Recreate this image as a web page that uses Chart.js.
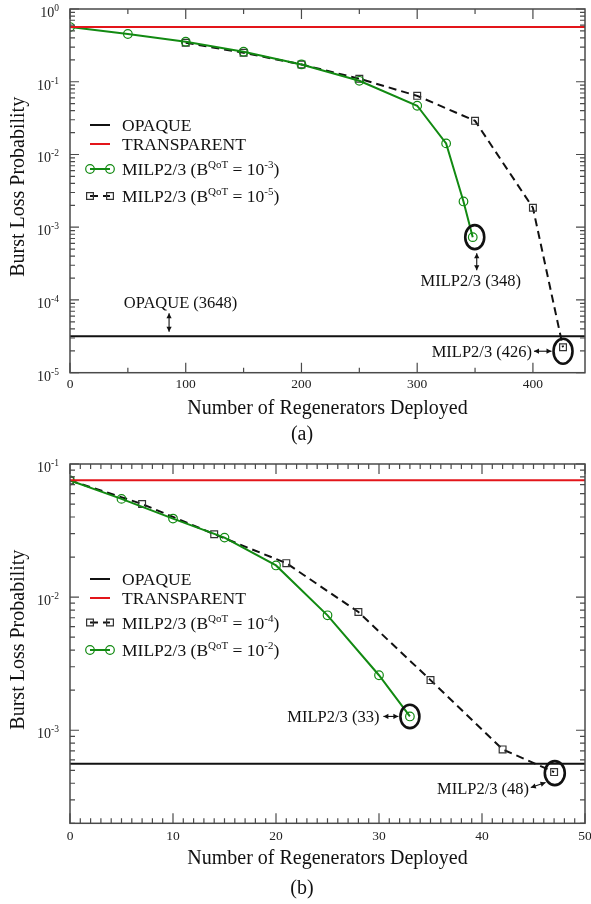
<!DOCTYPE html>
<html>
<head>
<meta charset="utf-8">
<script src="https://cdn.jsdelivr.net/npm/chart.js@4.4.1/dist/chart.umd.min.js"></script>
<style>
  html, body { margin: 0; padding: 0; background: #fff; }
  #wrap { position: relative; width: 591px; height: 904px; }
  .panel { position: absolute; left: 0; width: 591px; height: 452px; }
</style>
</head>
<body>
<div id="wrap">
  <div class="panel" style="top:0"><canvas id="chart-a" width="591" height="452"></canvas></div>
  <div class="panel" style="top:452px"><canvas id="chart-b" width="591" height="452"></canvas></div>
</div>
<script>
// --- data: panel (a) ---
const A_X_TICKS = [0, 100, 200, 300, 400];
const A_Y_EXP = [0, -1, -2, -3, -4, -5];
const A_GREEN_X = [0, 50, 100, 150, 200, 250, 300, 325, 340, 348];
const A_GREEN_Y = [0.565, 0.453, 0.355, 0.259, 0.173, 0.103, 0.0468, 0.0142, 0.00226, 0.00073];
const A_BLACK_X = [100, 150, 200, 250, 300, 350, 400, 426];
const A_BLACK_Y = [0.344, 0.25, 0.173, 0.11, 0.064, 0.029, 0.00185, 0.0000224];
const A_TRANSPARENT = 0.565;
const A_OPAQUE = 3.18e-5;

// --- data: panel (b) ---
const B_X_TICKS = [0, 10, 20, 30, 40, 50];
const B_Y_EXP = [-1, -2, -3];
const B_GREEN_X = [0, 5, 10, 15, 20, 25, 30, 33];
const B_GREEN_Y = [0.0752, 0.0547, 0.0389, 0.028, 0.0173, 0.0073, 0.00259, 0.00127];
const B_BLACK_X = [0, 7, 14, 21, 28, 35, 42, 47];
const B_BLACK_Y = [0.0752, 0.0501, 0.0297, 0.018, 0.00773, 0.00238, 0.000718, 0.000485];
const B_TRANSPARENT = 0.0755;
const B_OPAQUE = 5.6e-4;

const SERIF = '"Liberation Serif", "Times New Roman", serif';
const GREEN = "#128a12";
const RED = "#e3151a";
const BLACK = "#111";
const FRAME = "#4a4a4a";

const pts = (xs, ys) => xs.map((x, i) => ({ x, y: ys[i] }));
const hline = (v, xMax) => [{ x: 0, y: v }, { x: xMax, y: v }];

// draws text with superscript parts: parts = [[text, isSup], ...]
function rich(ctx, parts, x, y, size, supSize, raise, align) {
  const w = parts.map(([t, s]) => {
    ctx.font = `${s ? supSize : size}px ${SERIF}`;
    return ctx.measureText(t).width;
  });
  const total = w.reduce((a, b) => a + b, 0);
  let cx = align === "right" ? x - total : align === "center" ? x - total / 2 : x;
  ctx.textAlign = "left";
  ctx.textBaseline = "alphabetic";
  parts.forEach(([t, s], i) => {
    ctx.font = `${s ? supSize : size}px ${SERIF}`;
    ctx.fillText(t, cx, s ? y - raise : y);
    cx += w[i];
  });
}

function arrowHead(ctx, x1, y1, x2, y2) {
  const a = Math.atan2(y2 - y1, x2 - x1), L = 5, H = 2.6;
  ctx.beginPath();
  ctx.moveTo(x2, y2);
  ctx.lineTo(x2 - L * Math.cos(a) + H * Math.sin(a), y2 - L * Math.sin(a) - H * Math.cos(a));
  ctx.lineTo(x2 - L * Math.cos(a) - H * Math.sin(a), y2 - L * Math.sin(a) + H * Math.cos(a));
  ctx.closePath();
  ctx.fill();
}

function doubleArrow(ctx, x1, y1, x2, y2) {
  ctx.beginPath();
  ctx.moveTo(x1, y1);
  ctx.lineTo(x2, y2);
  ctx.stroke();
  arrowHead(ctx, x1, y1, x2, y2);
  arrowHead(ctx, x2, y2, x1, y1);
}

// frame, inward ticks, tick labels, titles, legend, annotations
const decorPlugin = {
  id: "decor",
  afterDatasetsDraw(chart) {
    const cfg = chart.options.plugins.decor;
    const { ctx, chartArea: a, scales: { x, y } } = chart;
    ctx.save();

    // frame + ticks (mirrored on all four sides, pointing in)
    ctx.strokeStyle = FRAME;
    ctx.lineWidth = 1.5;
    ctx.strokeRect(a.left, a.top, a.right - a.left, a.bottom - a.top);
    ctx.lineWidth = 1.2;
    const n = Math.floor((x.max - x.min) / cfg.xMinor + 1e-6);
    for (let i = 0; i <= n; i++) {
      const v = x.min + i * cfg.xMinor;
      const len = i % Math.round(cfg.xMajor / cfg.xMinor) === 0 ? 10 : 5;
      const px = x.getPixelForValue(v);
      ctx.beginPath();
      ctx.moveTo(px, a.bottom); ctx.lineTo(px, a.bottom - len);
      ctx.moveTo(px, a.top); ctx.lineTo(px, a.top + len);
      ctx.stroke();
    }
    const eMin = Math.floor(Math.log10(y.min)), eMax = Math.ceil(Math.log10(y.max));
    for (let e = eMin; e <= eMax; e++) {
      for (let m = 1; m < 10; m++) {
        const v = m * Math.pow(10, e);
        if (v < y.min * 0.999 || v > y.max * 1.001) continue;
        const py = y.getPixelForValue(v);
        const len = m === 1 ? 9 : 5;
        ctx.beginPath();
        ctx.moveTo(a.left, py); ctx.lineTo(a.left + len, py);
        ctx.moveTo(a.right, py); ctx.lineTo(a.right - len, py);
        ctx.stroke();
      }
    }

    // tick labels
    ctx.fillStyle = "#222";
    ctx.font = `13.5px ${SERIF}`;
    ctx.textAlign = "center";
    ctx.textBaseline = "alphabetic";
    cfg.xTicks.forEach((v) => ctx.fillText(String(v), x.getPixelForValue(v), a.bottom + cfg.xTickGap));
    cfg.yExp.forEach((e) => {
      const py = y.getPixelForValue(Math.pow(10, e));
      rich(ctx, [["10", false], [String(e), true]], a.left - 11, py + 8, 14, 9.5, 6, "right");
    });

    // axis titles + panel caption
    ctx.fillStyle = "#111";
    ctx.font = `20px ${SERIF}`;
    ctx.textAlign = "center";
    ctx.fillText("Number of Regenerators Deployed", (a.left + a.right) / 2, a.bottom + 41);
    ctx.fillText(cfg.caption, 302, a.bottom + cfg.captionGap);
    ctx.save();
    ctx.translate(24, (a.top + a.bottom) / 2 - 4);
    ctx.rotate(-Math.PI / 2);
    ctx.textBaseline = "alphabetic";
    ctx.fillText("Burst Loss Probability", 0, 0);
    ctx.restore();

    // legend (inside plot)
    cfg.legend.forEach((row, i) => {
      const ds = chart.data.datasets[row.ds];
      const ry = a.top + cfg.legendRows[i];
      const x1 = 90, x2 = 110;
      ctx.strokeStyle = ds.borderColor;
      ctx.lineWidth = ds.borderWidth;
      ctx.setLineDash(ds.borderDash || []);
      ctx.beginPath(); ctx.moveTo(x1, ry); ctx.lineTo(x2, ry); ctx.stroke();
      ctx.setLineDash([]);
      if (ds.pointRadius) {
        ctx.strokeStyle = ds.pointBorderColor;
        ctx.lineWidth = ds.pointBorderWidth;
        [x1, x2].forEach((px) => {
          ctx.beginPath();
          if (ds.pointStyle === "rect") {
            const s = ds.pointRadius * Math.SQRT1_2;
            ctx.rect(px - s, ry - s, 2 * s, 2 * s);
          } else {
            ctx.arc(px, ry, ds.pointRadius, 0, Math.PI * 2);
          }
          ctx.stroke();
        });
      }
      ctx.fillStyle = "#111";
      rich(ctx, row.parts, 122, ry + 6, 17.5, 11, 7, "left");
    });

    // annotations
    ctx.strokeStyle = "#111";
    ctx.fillStyle = "#111";
    cfg.notes.forEach((nt) => {
      const px = x.getPixelForValue(nt.at[0]);
      const py = y.getPixelForValue(nt.at[1]);
      if (nt.ring) {
        ctx.lineWidth = 2.6;
        ctx.beginPath();
        ctx.ellipse(px + nt.ring[0], py + nt.ring[1], nt.ring[2], nt.ring[3], 0, 0, Math.PI * 2);
        ctx.stroke();
      }
      ctx.lineWidth = 1.1;
      const [[ax1, ay1], [ax2, ay2]] = nt.arrow;
      doubleArrow(ctx, px + ax1, py + ay1, px + ax2, py + ay2);
      ctx.font = `16.5px ${SERIF}`;
      ctx.textAlign = nt.align;
      ctx.textBaseline = "alphabetic";
      ctx.fillText(nt.text, px + nt.textAt[0], py + nt.textAt[1]);
    });

    ctx.restore();
  },
};

function makeChart(canvas, s) {
  return new Chart(canvas, {
    type: "line",
    data: {
      datasets: [
        { label: "OPAQUE", data: hline(s.opaque, s.xMax), borderColor: BLACK, borderWidth: 2, pointRadius: 0 },
        { label: "TRANSPARENT", data: hline(s.transparent, s.xMax), borderColor: RED, borderWidth: 2, pointRadius: 0 },
        {
          label: s.greenLabel, data: pts(s.gx, s.gy), borderColor: GREEN, borderWidth: 2,
          pointStyle: "circle", pointRadius: 4.3, pointBorderColor: GREEN, pointBorderWidth: 1.2,
          pointBackgroundColor: "rgba(0,0,0,0)",
        },
        {
          label: s.blackLabel, data: pts(s.bx, s.by), borderColor: BLACK, borderWidth: 2, borderDash: [8, 5],
          pointStyle: "rect", pointRadius: 4.8, pointBorderColor: "#333", pointBorderWidth: 1.2,
          pointBackgroundColor: "rgba(0,0,0,0)",
        },
      ],
    },
    options: {
      responsive: false,
      animation: false,
      devicePixelRatio: 1,
      layout: { padding: s.padding },
      elements: { line: { tension: 0 } },
      scales: {
        x: { type: "linear", min: 0, max: s.xMax, display: false },
        y: { type: "logarithmic", min: s.yMin, max: s.yMax, display: false },
      },
      plugins: { legend: { display: false }, tooltip: { enabled: false }, decor: s.decor },
    },
    plugins: [decorPlugin],
  });
}

const supLabel = (e) => [["MILP2/3 (B", false], ["QoT", true], [" = 10", false], [e, true], [")", false]];

// (a)
makeChart(document.getElementById("chart-a"), {
  xMax: 445, yMin: 1e-5, yMax: 1,
  opaque: A_OPAQUE, transparent: A_TRANSPARENT,
  gx: A_GREEN_X, gy: A_GREEN_Y, bx: A_BLACK_X, by: A_BLACK_Y,
  greenLabel: "MILP2/3 (BQoT = 10-3)", blackLabel: "MILP2/3 (BQoT = 10-5)",
  padding: { left: 70, top: 9, right: 5, bottom: 79.3 },
  decor: {
    xMinor: 50, xMajor: 100, xTicks: A_X_TICKS, yExp: A_Y_EXP, xTickGap: 15,
    caption: "(a)", captionGap: 67,
    legendRows: [116, 135, 160, 187],
    legend: [
      { ds: 0, parts: [["OPAQUE", false]] },
      { ds: 1, parts: [["TRANSPARENT", false]] },
      { ds: 2, parts: supLabel("-3") },
      { ds: 3, parts: supLabel("-5") },
    ],
    notes: [
      { text: "OPAQUE (3648)", at: [85.6, A_OPAQUE], arrow: [[0, -23], [0, -4.5]], textAt: [11.5, -28], align: "center" },
      { text: "MILP2/3 (348)", at: [A_GREEN_X.at(-1), A_GREEN_Y.at(-1)], ring: [2, 0, 9.5, 12], arrow: [[4, 16], [4, 33]], textAt: [-2, 49], align: "center" },
      { text: "MILP2/3 (426)", at: [A_BLACK_X.at(-1), A_BLACK_Y.at(-1)], ring: [0, 4, 9.5, 12.5], arrow: [[-29, 4], [-11.5, 4]], textAt: [-31, 9.5], align: "right" },
    ],
  },
});

// (b)
makeChart(document.getElementById("chart-b"), {
  xMax: 50, yMin: 2e-4, yMax: 0.1,
  opaque: B_OPAQUE, transparent: B_TRANSPARENT,
  gx: B_GREEN_X, gy: B_GREEN_Y, bx: B_BLACK_X, by: B_BLACK_Y,
  greenLabel: "MILP2/3 (BQoT = 10-2)", blackLabel: "MILP2/3 (BQoT = 10-4)",
  padding: { left: 70, top: 12, right: 5, bottom: 80.7 },
  decor: {
    xMinor: 1, xMajor: 10, xTicks: B_X_TICKS, yExp: B_Y_EXP, xTickGap: 16.5,
    caption: "(b)", captionGap: 71,
    legendRows: [115, 134, 158.5, 186],
    legend: [
      { ds: 0, parts: [["OPAQUE", false]] },
      { ds: 1, parts: [["TRANSPARENT", false]] },
      { ds: 3, parts: supLabel("-4") },
      { ds: 2, parts: supLabel("-2") },
    ],
    notes: [
      { text: "MILP2/3 (33)", at: [B_GREEN_X.at(-1), B_GREEN_Y.at(-1)], ring: [0, 0, 9.5, 11.7], arrow: [[-26.5, 0], [-11.5, 0]], textAt: [-30.5, 6], align: "right" },
      { text: "MILP2/3 (48)", at: [B_BLACK_X.at(-1), B_BLACK_Y.at(-1)], ring: [0.7, 1, 10, 12], arrow: [[-23.3, 15.5], [-8.5, 10.5]], textAt: [-25, 22], align: "right" },
    ],
  },
});
</script>
</body>
</html>
